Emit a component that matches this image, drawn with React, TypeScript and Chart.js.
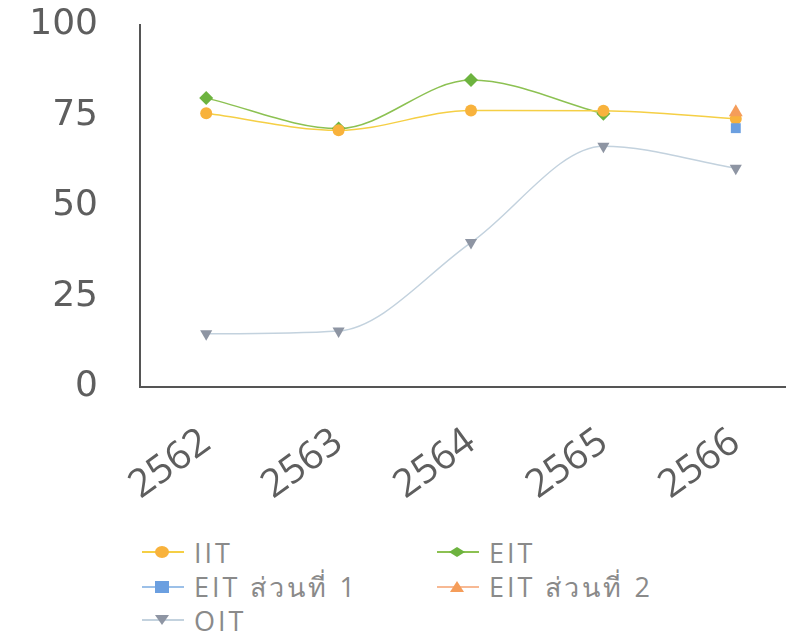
import React, { useEffect, useRef } from "react";
import { Chart, registerables } from "chart.js";

Chart.register(...registerables);

const categories = ["2562", "2563", "2564", "2565", "2566"];
const iitValues = [75.6, 70.9, 76.4, 76.3, 74.1];
const eitValues = [79.8, 71.4, 84.8, 75.5, null];
const eitPart1Values = [null, null, null, null, 71.5];
const eitPart2Values = [null, null, null, null, 75.9];
const oitValues = [14.7, 15.5, 39.9, 66.5, 60.4];
const yTicks = [0, 25, 50, 75, 100];

const seriesLabels = ["IIT", "EIT", "EIT ส่วนที่ 1", "EIT ส่วนที่ 2", "OIT"];

type Series = {
  label: string;
  data: (number | null)[];
  line: string;
  marker: string;
  style: string;
  rotation: number;
  radius: number;
  order: number;
};

const series: Series[] = [
  { label: seriesLabels[0], data: iitValues, line: "#f5cf45", marker: "#f8b23c", style: "circle", rotation: 0, radius: 6, order: 2 },
  { label: seriesLabels[1], data: eitValues, line: "#8cc152", marker: "#6db33f", style: "rectRot", rotation: 0, radius: 7, order: 3 },
  { label: seriesLabels[2], data: eitPart1Values, line: "#9cc0e8", marker: "#6b9fe0", style: "rect", rotation: 0, radius: 7, order: 1 },
  { label: seriesLabels[3], data: eitPart2Values, line: "#f7b994", marker: "#f59d5a", style: "triangle", rotation: 0, radius: 8, order: 0 },
  { label: seriesLabels[4], data: oitValues, line: "#c3d2de", marker: "#8e95a3", style: "triangle", rotation: 180, radius: 7, order: 4 },
];

function LegendMarker({ s }: { s: Series }) {
  const cx = 22, cy = 10;
  let shape: React.ReactNode = null;
  if (s.style === "circle") shape = <ellipse cx={cx} cy={cy} rx={7} ry={6} fill={s.marker} />;
  else if (s.style === "rectRot") shape = <polygon points={`${cx - 8},${cy} ${cx},${cy - 5} ${cx + 8},${cy} ${cx},${cy + 5}`} fill={s.marker} />;
  else if (s.style === "rect") shape = <rect x={cx - 7} y={cy - 6} width={14} height={12} fill={s.marker} />;
  else if (s.style === "triangle" && s.rotation === 0) shape = <polygon points={`${cx - 7},${cy + 5} ${cx},${cy - 6} ${cx + 7},${cy + 5}`} fill={s.marker} />;
  else shape = <polygon points={`${cx - 7},${cy - 5} ${cx},${cy + 5} ${cx + 7},${cy - 5}`} fill={s.marker} />;
  return (
    <svg width={46} height={20} style={{ display: "block" }}>
      <line x1={2} y1={cy} x2={44} y2={cy} stroke={s.line} strokeWidth={2} />
      {shape}
    </svg>
  );
}

export default function App() {
  const canvasRef = useRef<HTMLCanvasElement | null>(null);

  useEffect(() => {
    if (!canvasRef.current) return;
    const chart = new Chart(canvasRef.current, {
      type: "line",
      data: {
        labels: categories,
        datasets: series.map((s) => ({
          label: s.label,
          data: s.data,
          borderColor: s.line,
          borderWidth: 1.5,
          backgroundColor: s.marker,
          pointBackgroundColor: s.marker,
          pointBorderColor: s.marker,
          pointBorderWidth: 0,
          pointStyle: s.style as any,
          pointRotation: s.rotation,
          pointRadius: s.radius,
          cubicInterpolationMode: "monotone" as const,
          fill: false,
          order: s.order,
        })),
      },
      options: {
        animation: false,
        responsive: true,
        maintainAspectRatio: false,
        layout: { padding: { top: 25, right: 8, left: 0, bottom: 0 } },
        plugins: {
          legend: { display: false },
          tooltip: { enabled: false },
        },
        scales: {
          x: {
            type: "category",
            offset: true,
            afterFit: (scale: any) => {
              scale.height = 135;
            },
            grid: { display: false, drawTicks: false },
            border: { display: true, color: "#555", width: 2 },
            ticks: {
              minRotation: 36,
              maxRotation: 36,
              padding: 32,
              color: "#5e5e5e",
              font: { family: "'Open Sans', sans-serif", size: 39 },
            },
          },
          y: {
            min: 0,
            max: 100,
            afterFit: (scale: any) => {
              scale.width = 140;
              scale.paddingTop = 0;
              scale.paddingBottom = 0;
            },
            afterBuildTicks: (scale: any) => {
              scale.ticks = yTicks.map((v) => ({ value: v }));
            },
            grid: { display: false, drawTicks: false },
            border: { display: true, color: "#555", width: 2 },
            ticks: {
              padding: 42,
              color: "#5e5e5e",
              font: { family: "'DejaVu Sans', sans-serif", size: 36 },
            },
          },
        },
      },
    });
    return () => chart.destroy();
  }, []);

  const legendRows: [number, number, number][] = [
    [0, 140, 540],
    [1, 435, 540],
    [2, 140, 575],
    [3, 435, 575],
    [4, 140, 608],
  ];

  return (
    <div style={{ position: "fixed", left: 0, top: 0, width: 786, height: 633, overflow: "hidden", background: "#fff" }}>
      <div style={{ position: "absolute", left: 0, top: 0, width: 810, height: 522 }}>
        <canvas ref={canvasRef} />
      </div>
      {legendRows.map(([i, x, y]) => (
        <div
          key={i}
          style={{
            position: "absolute",
            left: x,
            top: y,
            height: 24,
            display: "flex",
            alignItems: "center",
            gap: 8,
            fontFamily: "'Open Sans', sans-serif",
            fontSize: 27,
            letterSpacing: 3,
            color: "#8a8a8a",
            whiteSpace: "nowrap",
          }}
        >
          <LegendMarker s={series[i]} />
          <span>{series[i].label}</span>
        </div>
      ))}
    </div>
  );
}
